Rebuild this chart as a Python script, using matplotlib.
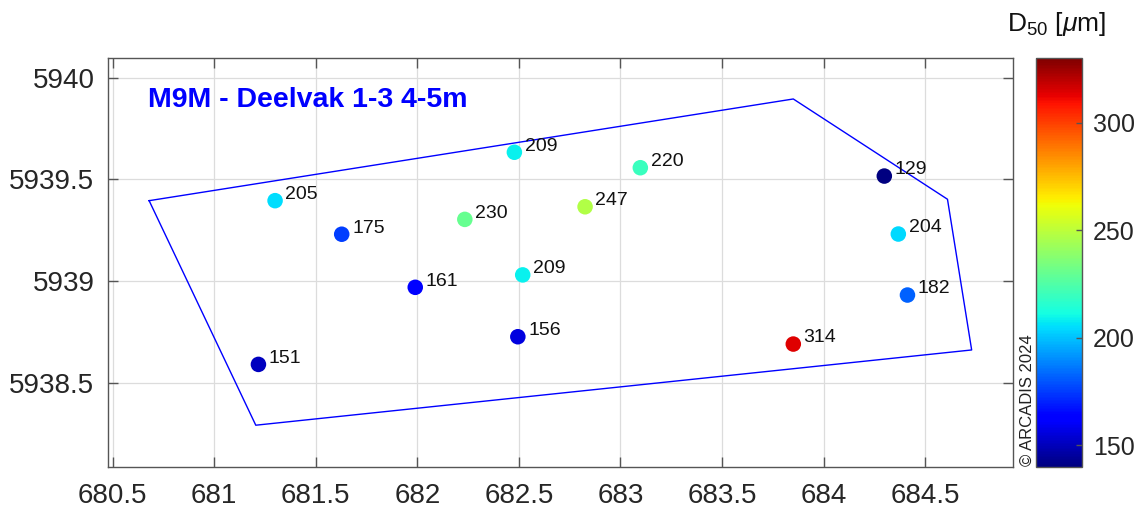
import matplotlib
matplotlib.use("Agg")
import matplotlib.pyplot as plt
import numpy as np

plt.rcParams['font.family'] = ['Liberation Sans', 'DejaVu Sans']
plt.rcParams['mathtext.fontset'] = 'custom'
plt.rcParams['mathtext.rm'] = 'Liberation Sans'
plt.rcParams['mathtext.it'] = 'Liberation Sans:italic'

# Sample locations (km) and D50 values (µm)
x_km = [681.30, 681.628, 681.99, 682.234, 682.478, 682.519, 682.495, 681.218,
        682.826, 683.098, 684.299, 684.368, 684.413, 683.851]
y_km = [5939.395, 5939.230, 5938.969, 5939.303, 5939.633, 5939.030, 5938.726,
        5938.590, 5939.365, 5939.557, 5939.516, 5939.231, 5938.931, 5938.690]
d50 = [205, 175, 161, 230, 209, 209, 156, 151, 247, 220, 129, 204, 182, 314]

# Area boundary polygon
poly_x = [680.680, 683.851, 684.610, 684.729, 681.205, 680.680]
poly_y = [5939.395, 5939.895, 5939.402, 5938.661, 5938.291, 5939.395]

x_ticks = [680.5, 681, 681.5, 682, 682.5, 683, 683.5, 684, 684.5]
x_tick_labels = ['680.5', '681', '681.5', '682', '682.5', '683', '683.5', '684', '684.5']
y_ticks = [5938.5, 5939, 5939.5, 5940]
y_tick_labels = ['5938.5', '5939', '5939.5', '5940']
cb_ticks = [150, 200, 250, 300]

title_text = 'M9M - Deelvak 1-3 4-5m'
cb_label = r'D$_{50}$ [$\mathit{\mu}$m]'
copyright_text = '© ARCADIS 2024'

W, H = 1140, 514
fig = plt.figure(figsize=(W / 100, H / 100), dpi=100)
ax = fig.add_axes([108.3 / W, (H - 466.7) / H, 905 / W, 408.4 / H])
cax = fig.add_axes([1036 / W, (H - 466.7) / H, 46 / W, 408.4 / H])

tick_col = '#262626'
spine_col = '#555555'

ax.plot(poly_x, poly_y, color='#0000ff', lw=1.0, zorder=2)
sc = ax.scatter(x_km, y_km, c=d50, cmap='jet', vmin=140, vmax=330, s=125,
                edgecolors='none', zorder=3)
for xx, yy, v in zip(x_km, y_km, d50):
    ax.annotate(str(v), (xx, yy), xytext=(7.5, 1.2), textcoords='offset points',
                ha='left', va='baseline', fontsize=14, color='#111111', zorder=4)

ax.set_xlim(680.479, 684.934)
ax.set_ylim(5938.087, 5940.095)
ax.set_xticks(x_ticks)
ax.set_xticklabels(x_tick_labels)
ax.set_yticks(y_ticks)
ax.set_yticklabels(y_tick_labels)
ax.grid(True, color='#dcdcdc', lw=0.9, zorder=0)
ax.set_axisbelow(True)
ax.tick_params(direction='in', length=7, width=1.0, color=spine_col,
               labelsize=20, labelcolor=tick_col, top=True, right=True)
ax.tick_params(axis='x', pad=12)
ax.tick_params(axis='y', pad=10)
for sp in ax.spines.values():
    sp.set_color(spine_col)
    sp.set_linewidth(1.0)

ax.text(0.0439, 0.898, title_text, transform=ax.transAxes, ha='left', va='center',
        fontsize=20.5, fontweight='bold', color='#0000ff')

ax.text(1027 / W, (H - 466) / H, copyright_text, transform=fig.transFigure,
        rotation=90, ha='center', va='bottom', fontsize=12, color='#222222')

cb = fig.colorbar(sc, cax=cax)
cb.set_ticks(cb_ticks)
cb.ax.tick_params(direction='in', length=4, width=1.0, color=spine_col,
                  labelsize=18, labelcolor=tick_col, pad=8)
cb.outline.set_edgecolor(spine_col)
cb.outline.set_linewidth(1.0)
fig.text(1057 / W, (H - 24) / H, cb_label, ha='center', va='center',
         fontsize=19, color='#111111')

fig.savefig('out.png', dpi=100)
